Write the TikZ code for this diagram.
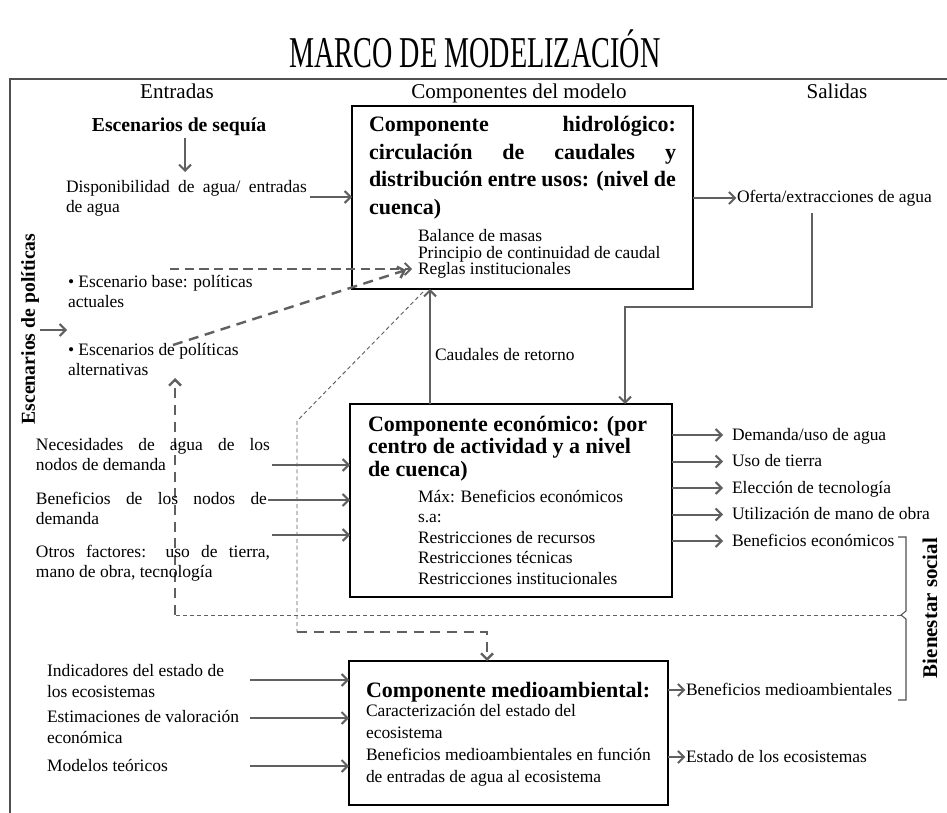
\documentclass[tikz,border=0pt]{standalone}
\usepackage{fontspec}
\setmainfont{Liberation Serif}
\usepackage{graphicx}
\usetikzlibrary{arrows.meta,fit}
\definecolor{ln}{HTML}{606060}
\definecolor{fr}{HTML}{505050}
\newcommand\J[2]{\makebox[\dimexpr #1pt*3/4\relax][s]{#2}}
\newcommand\tlines[6]{\foreach \l [count=\i] in {#6}{\node[#1] (#2-\i) at (#3,{#4+(\i-1)*#5}) {\l};}}
\begin{document}
\begin{tikzpicture}[x=0.75pt,y=-0.75pt,
  every node/.style={inner sep=0pt,outer sep=0pt},
  body/.style={font=\fontsize{13.1}{15.5}\selectfont, anchor=base west},
  bhd/.style={font=\fontsize{16.5}{20}\selectfont\bfseries, anchor=base west},
  blab/.style={font=\fontsize{14.8}{17}\selectfont\bfseries},
  colh/.style={font=\fontsize{15.8}{18}\selectfont, anchor=base},
  box/.style={draw=black, line width=1pt, inner sep=0pt},
  frame/.style={draw=fr, line width=1.2pt},
  arr/.style={draw=ln, line width=1.5pt, -{Straight Barb[length=4.5pt,width=9pt]}},
  dtip/.style={-{Straight Barb[length=4.5pt,width=9pt]}},
  dmed/.style={draw=ln, line width=1.4pt, dash pattern=on 7pt off 4pt},
  dthick/.style={draw=ln, line width=1.8pt, dash pattern=on 7.5pt off 5pt},
  dthin/.style={draw=ln, line width=0.7pt, dash pattern=on 3pt off 2.2pt},
  brace/.style={draw=fr, line width=0.8pt}
]
\fill[white] (0,0) rectangle (947,813);
\useasboundingbox (0,0) rectangle (947,813);

% title and frame
\node[anchor=base] (title) at (475,68) {\fontsize{33}{36}\selectfont\scalebox{0.64}[1]{MARCO DE MODELIZACIÓN}};
\draw[frame] (947,79) -- (10,79) -- (10,813);

% column headers
\node[colh] (hin) at (177,99) {Entradas};
\node[colh] (hmod) at (519,99) {Componentes del modelo};
\node[colh] (hout) at (837,99) {Salidas};

% boxes
\node[box, fit={(352,106) (693,289)}] (hydro) {};
\node[box, fit={(350,404) (672,597)}] (eco) {};
\node[box, fit={(349,661) (668,805)}] (env) {};

% hydrological component
\tlines{bhd}{hh}{369}{132}{27.5}{{\J{307}{Componente hidrológico:}},{\J{307}{circulación de caudales y}},{\J{307}{distribución entre usos: (nivel de}},{cuenca)}}
\tlines{body}{hs}{418}{242}{16.5}{{Balance de masas},{Principio de continuidad de caudal},{Reglas institucionales}}

% drought scenarios
\node[blab, anchor=base] (seq) at (179,132) {Escenarios de sequía};
\coordinate (seqA) at (185,138); \coordinate (seqB) at (185,172);
\draw[arr] (seqA) -- (seqB);
\tlines{body}{dsp}{66}{193}{20}{{\J{241}{Disponibilidad de agua/ entradas}},{de agua}}
\coordinate (dspA) at (310,197);
\draw[arr] (dspA) -- (dspA -| hydro.west);

% output of hydro
\node[body] (ofe) at (737,203) {Oferta/extracciones de agua};
\draw[arr] ([yshift=3.75pt]hydro.east |- ofe.base west) -- ([xshift=-0.5pt,yshift=3.75pt]ofe.base west);
\coordinate (ofd) at (812,213); \coordinate (ofc) at (625,307);
\draw[arr] (ofd) |- (ofc) -- (ofc |- eco.north);

% return flows
\coordinate (ret) at (430,340);
\draw[arr] (ret |- eco.north) -- (ret |- hydro.south);
\node[body] (retl) at (435,360) {Caudales de retorno};

% policy scenarios
\node[blab, rotate=90] (pol) at (30,329) {Escenarios de políticas};
\coordinate (polA) at (40,330); \coordinate (polB) at (67,330);
\draw[arr] (polA) -- (polB);
\tlines{body}{pb}{68}{288}{19}{{• Escenario base: políticas},{actuales}}
\tlines{body}{pa}{68}{355}{20}{{• Escenarios de políticas},{alternativas}}

% dashed connectors
\coordinate (d1) at (170,269); \coordinate (d1e) at (412,269);
\draw[dmed,dtip] (d1) -- (d1e);
\coordinate (d2) at (173,345); \coordinate (d2e) at (406,270);
\draw[dthick,dtip] (d2) -- (d2e);
\coordinate (k1) at (175,615); \coordinate (k1e) at (175,378);
\draw[dthick,dtip] (k1) -- (k1e);
\coordinate (bm) at (901,615);
\draw[dthin] (bm) -- (k1);
\coordinate (t1) at (423,292); \coordinate (t2) at (297,421);
\coordinate (t3) at (297,632); \coordinate (t4) at (487,632);
\draw[dthin] (t1) -- (t2) -- (t3);
\draw[dthick,dtip] (t3) -- (t4) -- (t4 |- env.north);

% economic component inputs
\tlines{body}{nec}{36}{450}{20}{{\J{234}{Necesidades de agua de los}},{nodos de demanda}}
\tlines{body}{ben}{36}{504}{20}{{\J{231}{Beneficios de los nodos de}},{demanda}}
\tlines{body}{otr}{36}{557}{20}{{\J{234}{Otros factores: uso de tierra,}},{mano de obra, tecnología}}
\coordinate (ei1) at (272,465); \coordinate (ei2) at (268,500); \coordinate (ei3) at (272,535);
\foreach \c in {ei1,ei2,ei3} \draw[arr] (\c) -- (\c -| eco.west);

% economic component
\tlines{bhd}{eh}{368}{431}{22.7}{{Componente económico: (por},{centro de actividad y a nivel},{de cuenca)}}
\tlines{body}{es}{418}{502}{20.5}{{Máx: Beneficios económicos},{s.a:},{Restricciones de recursos},{Restricciones técnicas},{Restricciones institucionales}}

% economic outputs
\tlines{body}{eo}{732}{440}{26.5}{{Demanda/uso de agua},{Uso de tierra},{Elección de tecnología},{Utilización de mano de obra},{Beneficios económicos}}
\foreach \i in {1,...,5} \draw[arr] ([yshift=3.75pt]eco.east |- eo-\i.base west) -- ([xshift=-6.75pt,yshift=3.75pt]eo-\i.base west);

% social welfare brace
\node[blab, font=\fontsize{15.7}{18}\selectfont\bfseries, rotate=90] (bien) at (930,608) {Bienestar social};
\draw[brace] (898,537) -- (906,537) -- (906,611) -- (bm) -- (906,619) -- (906,700) -- (898,700);

% environmental inputs
\tlines{body}{eli}{47}{676}{21}{{Indicadores del estado de},{los ecosistemas}}
\tlines{body}{ele}{47}{722}{21}{{Estimaciones de valoración},{económica}}
\node[body] (elm) at (47,771) {Modelos teóricos};
\coordinate (vi1) at (250,680); \coordinate (vi2) at (250,718); \coordinate (vi3) at (250,766);
\foreach \c in {vi1,vi2,vi3} \draw[arr] (\c) -- (\c -| env.west);

% environmental component
\node[bhd] (mh) at (366,697) {Componente medioambiental:};
\tlines{body}{ms}{366}{716}{22.3}{{Caracterización del estado del},{ecosistema},{Beneficios medioambientales en función},{de entradas de agua al ecosistema}}
\node[body] (vo1) at (686,695) {Beneficios medioambientales};
\node[body] (vo2) at (686,762) {Estado de los ecosistemas};
\draw[arr] ([yshift=3.75pt]env.east |- vo1.base west) -- ([xshift=-0.5pt,yshift=3.75pt]vo1.base west);
\draw[arr] ([yshift=3.75pt]env.east |- vo2.base west) -- ([xshift=-0.5pt,yshift=3.75pt]vo2.base west);
\end{tikzpicture}
\end{document}
